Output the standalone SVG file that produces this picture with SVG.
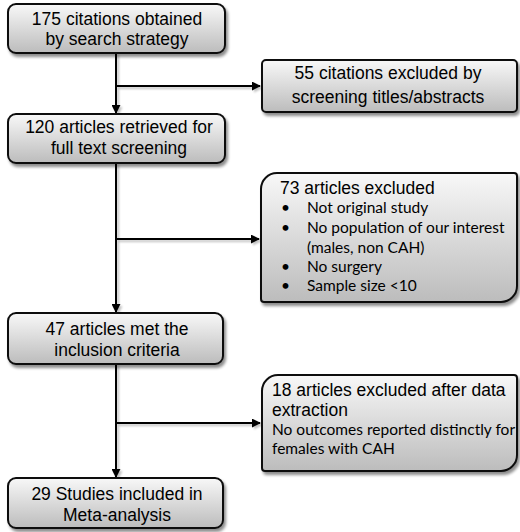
<svg xmlns="http://www.w3.org/2000/svg" width="520" height="532" viewBox="0 0 520 532">
<defs>
<linearGradient id="g" x1="0" y1="0" x2="0" y2="1">
<stop offset="0" stop-color="#f8f8f8"/>
<stop offset="1" stop-color="#bcbcbc"/>
</linearGradient>
<filter id="sh" x="-10%" y="-10%" width="125%" height="140%">
<feGaussianBlur in="SourceAlpha" stdDeviation="1.6"/>
<feOffset dx="2" dy="3" result="b"/>
<feComponentTransfer><feFuncA type="linear" slope="0.45"/></feComponentTransfer>
<feMerge><feMergeNode/><feMergeNode in="SourceGraphic"/></feMerge>
</filter>
<filter id="lsh" x="-10%" y="-50%" width="125%" height="300%">
<feGaussianBlur in="SourceAlpha" stdDeviation="1.2"/>
<feOffset dx="1.5" dy="2"/>
<feComponentTransfer><feFuncA type="linear" slope="0.25"/></feComponentTransfer>
<feMerge><feMergeNode/><feMergeNode in="SourceGraphic"/></feMerge>
</filter>
<marker id="ah" viewBox="0 0 10 10" refX="9" refY="5" markerWidth="9" markerHeight="9" markerUnits="userSpaceOnUse" orient="auto">
<path d="M0,0 L10,5 L0,10 Z" fill="#000"/>
</marker>
</defs>
<style>
.box{fill:url(#g);stroke:#111;stroke-width:2;filter:url(#sh)}
.t{font-family:"Liberation Sans",Arial,sans-serif;font-size:17.5px;fill:#000}
.c{text-anchor:middle}
.s{font-family:Lato,"Open Sans",sans-serif;font-size:15.5px;fill:#000}
.ln{stroke:#000;stroke-width:2;fill:none}
</style>
<g id="connectors" filter="url(#lsh)">
<line class="ln" x1="116" y1="53" x2="116" y2="113" marker-end="url(#ah)"/>
<line class="ln" x1="116" y1="86" x2="260" y2="86" marker-end="url(#ah)"/>
<line class="ln" x1="116" y1="163" x2="116" y2="312" marker-end="url(#ah)"/>
<line class="ln" x1="116" y1="239" x2="259" y2="239" marker-end="url(#ah)"/>
<line class="ln" x1="116" y1="364" x2="116" y2="477" marker-end="url(#ah)"/>
<line class="ln" x1="116" y1="423" x2="260" y2="423" marker-end="url(#ah)"/>
</g>
<g id="n1">
<rect class="box" x="8" y="4" width="217" height="49" rx="8"/>
<text class="t c" x="117" y="25">175 citations obtained</text>
<text class="t c" x="117" y="45">by search strategy</text>
</g>
<g id="n2">
<rect class="box" x="262" y="60" width="255" height="52" rx="4"/>
<text class="t c" x="388" y="79">55 citations excluded by</text>
<text class="t c" x="388" y="103">screening titles/abstracts</text>
</g>
<g id="n3">
<rect class="box" x="8" y="114" width="217" height="49" rx="8"/>
<text class="t c" x="119" y="133">120 articles retrieved for</text>
<text class="t c" x="119" y="154">full text screening</text>
</g>
<g id="n4">
<path class="box" d="M277,173 H514 A3,3 0 0 1 517,176 V286 A16,16 0 0 1 501,302 H264 A3,3 0 0 1 261,299 V189 A16,16 0 0 1 277,173 Z"/>
<text class="t" x="280" y="194">73 articles excluded</text>
<g class="s">
<text x="281" y="213">•</text><text x="307" y="213">Not original study</text>
<text x="281" y="233">•</text><text x="307" y="233">No population of our interest</text>
<text x="307" y="253">(males, non CAH)</text>
<text x="281" y="272">•</text><text x="307" y="272">No surgery</text>
<text x="281" y="291">•</text><text x="307" y="291">Sample size &lt;10</text>
</g>
</g>
<g id="n5">
<rect class="box" x="8" y="313" width="215" height="51" rx="8"/>
<text class="t c" x="117" y="335">47 articles met the</text>
<text class="t c" x="117" y="356">inclusion criteria</text>
</g>
<g id="n6">
<path class="box" d="M278,375 H514 A3,3 0 0 1 517,378 V455 A16,16 0 0 1 501,471 H265 A3,3 0 0 1 262,468 V391 A16,16 0 0 1 278,375 Z"/>
<text class="t" x="272" y="396">18 articles excluded after data</text>
<text class="t" x="272" y="416">extraction</text>
<text class="s" x="272" y="435">No outcomes reported distinctly for</text>
<text class="s" x="272" y="454">females with CAH</text>
</g>
<g id="n7">
<rect class="box" x="8" y="478" width="215" height="50" rx="8"/>
<text class="t c" x="117" y="500">29 Studies included in</text>
<text class="t c" x="117" y="521">Meta-analysis</text>
</g>
</svg>
